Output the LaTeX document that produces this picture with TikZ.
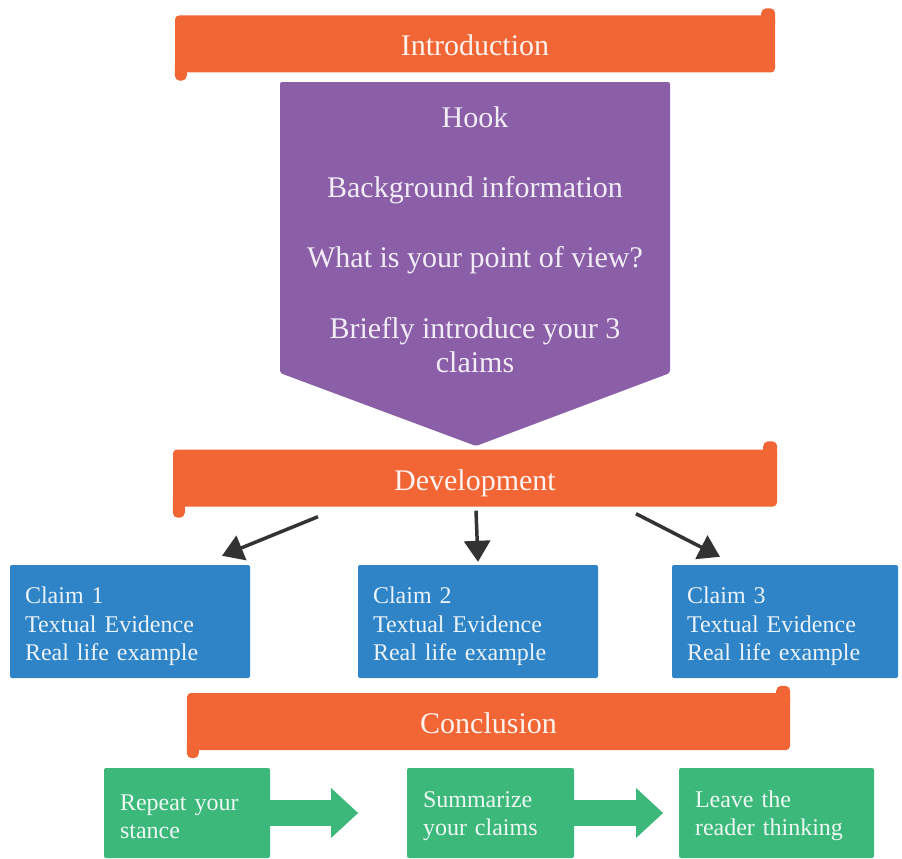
\documentclass[tikz,border=0pt]{standalone}
\usepackage{fontspec}
\setmainfont{Liberation Serif}
\usetikzlibrary{arrows.meta}

\definecolor{bannerfill}{RGB}{242,101,52}
\definecolor{hookfill}{RGB}{139,95,168}
\definecolor{claimfill}{RGB}{46,132,198}
\definecolor{endfill}{RGB}{60,184,123}
\definecolor{arrowgray}{RGB}{51,51,51}

\begin{document}
\begin{tikzpicture}[x=1pt,y=-1pt,
        bannerbox/.style={fill=bannerfill, rounded corners=4pt, minimum height=57pt, inner sep=0pt,
            text height=24pt, text depth=0pt,
            text=white!92!bannerfill, font=\fontsize{30}{34}\selectfont},
        tab/.style={fill=bannerfill, rounded corners=5pt},
        bigtext/.style={text=white!88!hookfill, font=\fontsize{30}{34}\selectfont, align=center},
        claimbox/.style={fill=claimfill, rounded corners=2pt, minimum height=113pt, inner xsep=15pt,
            text=white!90!claimfill, font=\fontsize{24}{28.5}\selectfont, align=left,
            execute at begin node={\rule{0pt}{26.5pt}}},
        endbox/.style={fill=endfill, rounded corners=2pt, minimum height=90pt, inner xsep=16pt,
            text=white!90!endfill, font=\fontsize{24}{28}\selectfont, align=left,
            execute at begin node={\rule{0pt}{23pt}}},
        point/.style={-{Triangle[length=21pt,width=26pt]}, line width=3.5pt, arrowgray},
        block/.style={-{Triangle[length=27pt,width=48pt]}, line width=26pt, endfill}
    ]
        \useasboundingbox (0,0) rectangle (902,859);

        % purple part of the introduction
        \fill[hookfill, rounded corners=2pt] (280,82) -- (670,82) -- (670,373) -- (476,446) -- (280,373) -- cycle;
        \node[bigtext] (hook) at (475,117) {Hook};
        \node[bigtext] (backgr) at (475,190) {Background information};
        \node[bigtext] (view) at (475,260) {What is your point of view?};
        \node[bigtext] (claims) at (475,345) {Briefly introduce your 3\\claims};

        % banners
        \node[bannerbox, minimum width=600pt] (intro) at (475,44) {Introduction};
        \fill[tab] (intro.south west) ++(0,-14) rectangle ++(12,22);
        \fill[tab] (intro.north east) ++(-14,-7) rectangle ++(14,20);

        \node[bannerbox, minimum width=604pt] (dev) at (475,478) {Development};
        \fill[tab] (dev.south west) ++(0,-14) rectangle ++(12,25);
        \fill[tab] (dev.north east) ++(-14,-8) rectangle ++(14,20);

        \node[bannerbox, minimum width=603pt] (concl) at (488.5,721.5) {Conclusion};
        \fill[tab] (concl.south west) ++(0,-14) rectangle ++(12,22);
        \fill[tab] (concl.north east) ++(-14,-7) rectangle ++(14,20);

        % claims
        \node[claimbox, text width=210pt] (claim1) at (130,621.5) {Claim 1\\Textual Evidence\\Real life example};
        \node[claimbox, text width=210pt] (claim2) at (478,621.5) {Claim 2\\Textual Evidence\\Real life example};
        \node[claimbox, text width=196pt] (claim3) at (785,621.5) {Claim 3\\Textual Evidence\\Real life example};

        \draw[point] ([xshift=-157pt,yshift=-10pt]dev.south) -- ([xshift=92pt,yshift=9pt]claim1.north);
        \draw[point] ([xshift=1pt,yshift=-4pt]dev.south) -- ([yshift=3pt]claim2.north);
        \draw[point] ([xshift=161pt,yshift=-7pt]dev.south) -- ([xshift=-65pt,yshift=8pt]claim3.north);

        % conclusion steps
        \node[endbox, text width=134pt] (repeat) at (187,813) {Repeat your\\stance};
        \node[endbox, text width=135pt] (summ) at (490.5,813) {Summarize\\your claims};
        \node[endbox, text width=163pt] (leave) at (776.5,813) {Leave the\\reader thinking};

        \draw[block] (repeat.east) -- ++(88,0);
        \draw[block] (summ.east) -- ++(89,0);
    \end{tikzpicture}
\end{document}
